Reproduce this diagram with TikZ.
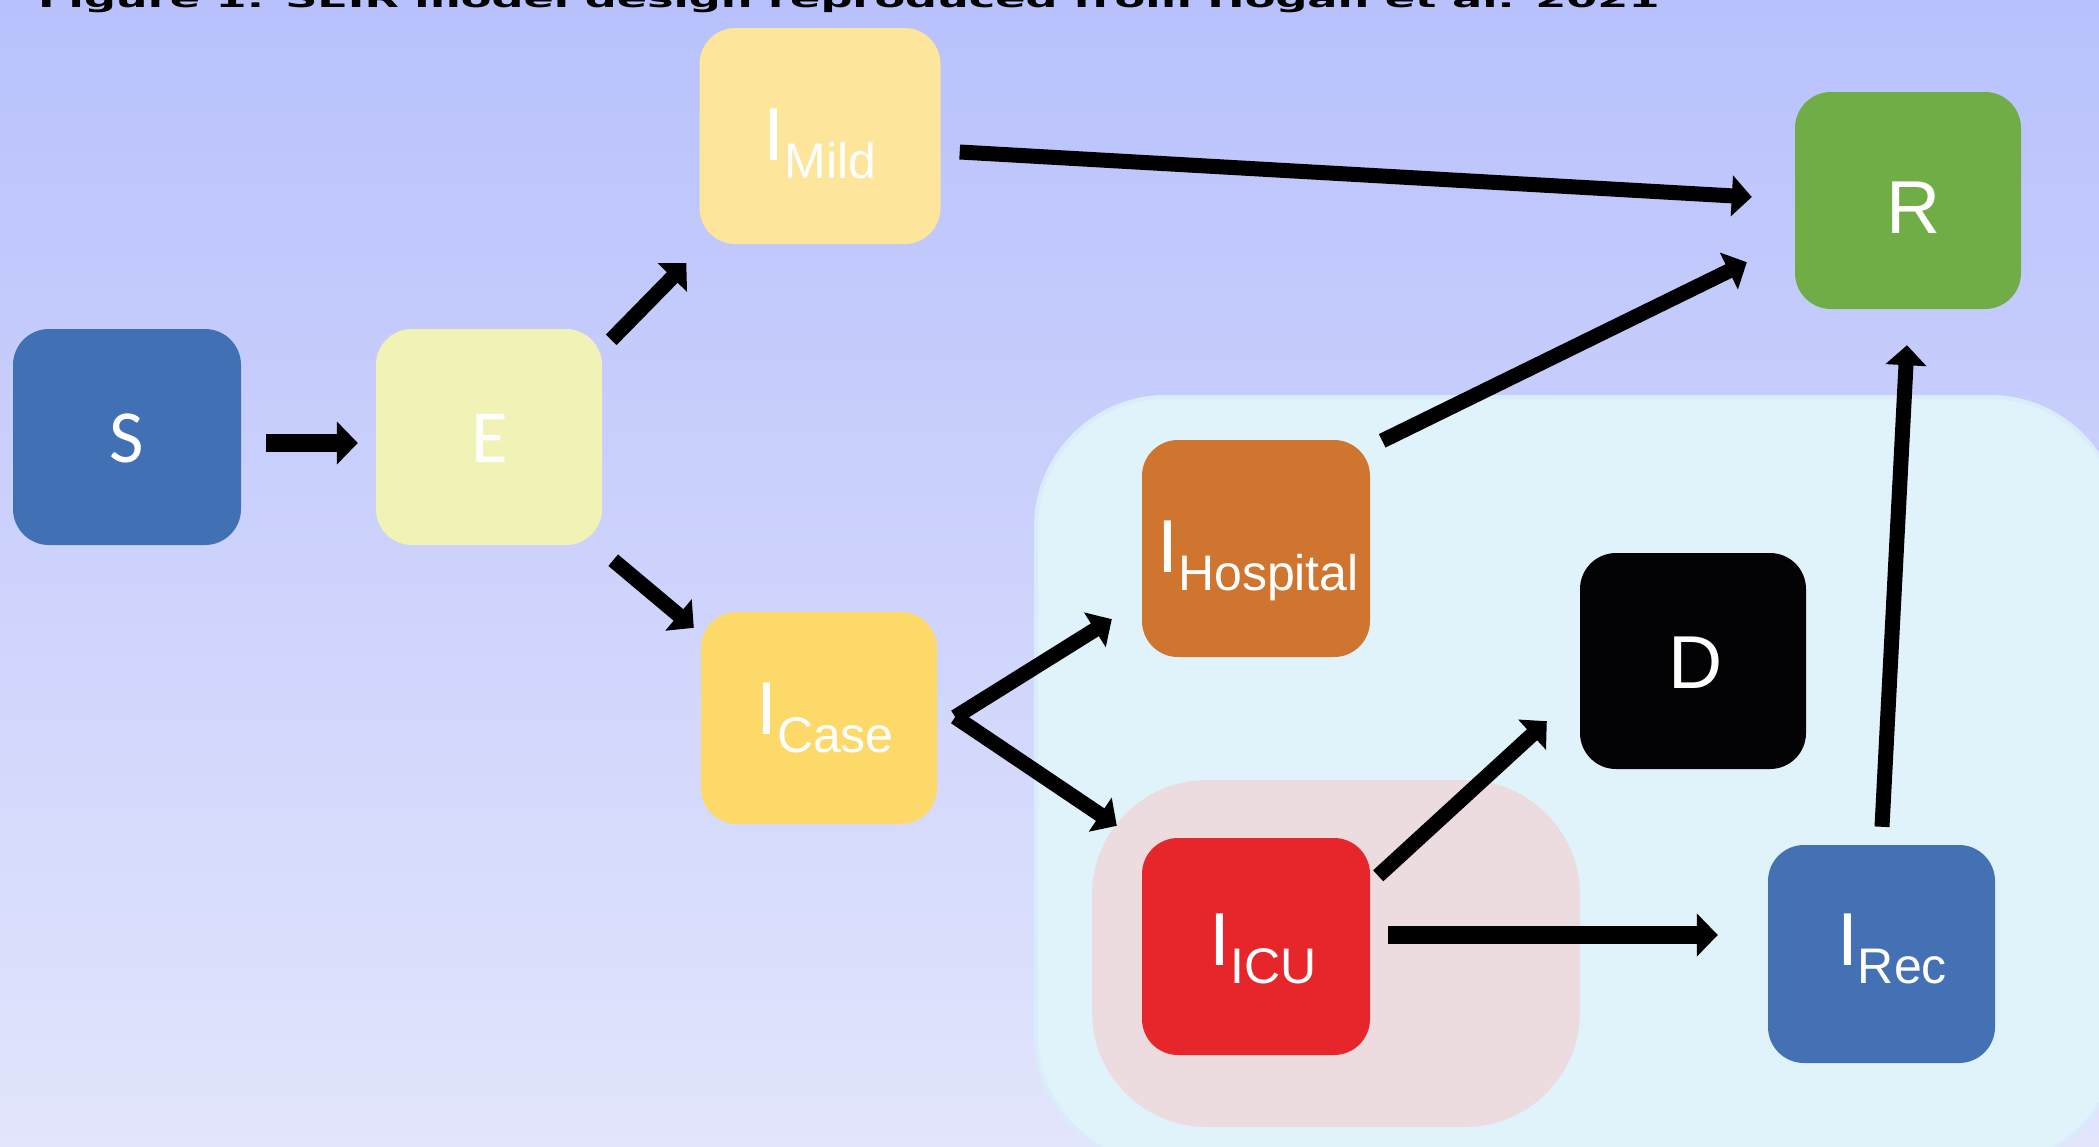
\documentclass[tikz,border=0pt]{standalone}
\usepackage{fontspec}
\usepackage{graphicx}
\setmainfont{Liberation Sans}
\newfontfamily\calfont{Carlito}
\newfontfamily\titlefont{DejaVu Sans}
\usetikzlibrary{arrows.meta,calc}
\definecolor{bgTop}{RGB}{184,193,252}
\definecolor{bgBot}{RGB}{226,229,252}
\definecolor{cRegion}{RGB}{225,243,250}
\definecolor{cRegionEdge}{RGB}{218,236,249}
\definecolor{cPink}{RGB}{236,220,224}
\definecolor{cS}{RGB}{66,112,180}
\definecolor{cE}{RGB}{240,243,181}
\definecolor{cMild}{RGB}{253,229,155}
\definecolor{cCase}{RGB}{253,217,105}
\definecolor{cR}{RGB}{113,173,70}
\definecolor{cHosp}{RGB}{208,117,48}
\definecolor{cD}{RGB}{3,3,5}
\definecolor{cICU}{RGB}{230,38,43}
\definecolor{cRec}{RGB}{68,113,180}
\newcommand\Isub[1]{\raisebox{-18pt}{\fontsize{50}{55}\selectfont #1}}
\tikzset{
  box/.style={rectangle, rounded corners=36pt, inner sep=0pt, draw=none},
  lbl/.style={text=white, inner sep=0pt, anchor=base, font=\fontsize{75}{80}\selectfont},
  clbl/.style={text=white, inner sep=0pt, anchor=base, font=\calfont\fontsize{75}{80}\selectfont},
  flow/.style={line width=15pt, draw=black, -{Triangle[width=40pt,length=20pt]}},
  flowthick/.style={line width=18pt, draw=black, -{Triangle[width=42pt,length=21pt]}}
}
\begin{document}
\begin{tikzpicture}[x=1pt,y=-1pt]
\useasboundingbox (0,0) rectangle (2099,1146);
\clip (0,0) rectangle (2099,1146);
\shade[top color=bgTop, bottom color=bgBot] (0,0) rectangle (2099,1146);
% title (cut at top)
\node[anchor=base west, inner sep=0pt] (title) at (38,7) {\scalebox{1}[0.55]{\resizebox{1621pt}{!}{\titlefont\bfseries Figure 1: SEIR model design reproduced from Hogan et al. 2021}}};
% regions
\draw[fill=cRegion, draw=cRegionEdge, line width=4pt, rounded corners=130pt] (1036,397) rectangle (2120,1165);
\fill[cPink, rounded corners=115pt] (1092,780) rectangle (1580,1127);
% boxes
\node[box, fill=cS, minimum width=228pt, minimum height=216pt] (S) at (127,437) {};
\node[box, fill=cE, minimum width=226pt, minimum height=216pt] (E) at (489,437) {};
\node[box, fill=cMild, minimum width=241pt, minimum height=216pt] (Mild) at (820,136) {};
\node[box, fill=cCase, minimum width=236pt, minimum height=212pt] (Case) at (819,718) {};
\node[box, fill=cR, minimum width=226pt, minimum height=217pt] (R) at (1908,200.5) {};
\node[box, fill=cHosp, minimum width=228pt, minimum height=217pt] (Hosp) at (1256,548.5) {};
\node[box, fill=cD, minimum width=226pt, minimum height=216pt] (D) at (1693,661) {};
\node[box, fill=cICU, minimum width=228pt, minimum height=217pt] (ICU) at (1256,946.5) {};
\node[box, fill=cRec, minimum width=227pt, minimum height=218pt] (Rec) at (1881.5,954) {};
% labels
\node[clbl] (S-t) at (127,462) {S};
\node[clbl] (E-t) at (490,462) {E};
\node[lbl] (Mild-t) at (820,160) {I\Isub{Mild}};
\node[lbl] (Case-t) at (825,734) {I\Isub{Case}};
\node[lbl] (R-t) at (1914,233) {R};
\node[lbl] (Hosp-t) at (1258,572) {I\Isub{Hospital}};
\node[lbl] (D-t) at (1696,688) {D};
\node[lbl] (ICU-t) at (1263,965) {I\Isub{ICU}};
\node[lbl] (Rec-t) at (1892,965) {I\Isub{Rec}};
% connectors
\draw[flowthick] ($(S.east)+(25,6)$) -- ($(E.west)+(-18,6)$);
\draw[flow] ($(E.north east)+(9,11)$) -- ($(Mild.south west)+(-13,19)$);
\draw[flow] ($(E.south east)+(11,15)$) -- ($(Case.north west)+(-7,16)$);
\draw[flow] ($(Mild.east)+(19,16)$) -- ($(R.west)+(-43,-3.5)$);
\draw[flow] ($(Hosp.north east)+(12,1)$) -- ($(R.south west)+(-48,-47)$);
\coordinate (V) at ($(Case.east)+(18,-1)$);
\draw[flow] (V) -- ($(Hosp.south west)+(-30,-38)$);
\draw[flow] (V) -- ($(ICU.north west)+(-25,-12)$);
\draw[flow] ($(ICU.north east)+(8,38)$) -- ($(D.south west)+(-33,-48)$);
\draw[flowthick] ($(ICU.east)+(18,-11.5)$) -- ($(Rec.west)+(-50,-19)$);
\draw[flow] ($(Rec.north)+(0.5,-18)$) -- ($(R.south)+(-1,36)$);
\end{tikzpicture}
\end{document}
